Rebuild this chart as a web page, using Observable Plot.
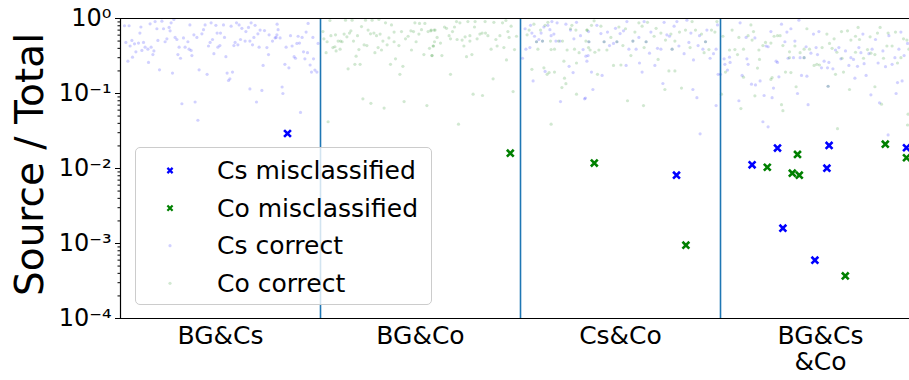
<!DOCTYPE html>
<html>
<head>
<meta charset="utf-8">
<script src="https://cdn.jsdelivr.net/npm/d3@7"></script>
<script src="https://cdn.jsdelivr.net/npm/@observablehq/plot@0.6"></script>
<style>
  html, body { margin: 0; padding: 0; background: white; }
  #wrap { position: relative; width: 909px; height: 380px; font-family: "DejaVu Sans", sans-serif; }
  #legend { position: absolute; left: 135px; top: 147px; width: 297px; height: 158px; box-sizing: border-box;
            border: 1px solid #cccccc; border-radius: 5px; background: rgba(255,255,255,0.8); }
  #legend svg { position: absolute; left: -1px; top: -1px; }
</style>
</head>
<body>
<div id="wrap"></div>
<script>
// ---------------- data ----------------
const categories = ["BG&Cs", "BG&Co", "Cs&Co", "BG&Cs\n&Co"];
const categoryCenters = [0.5, 1.5, 2.5, 3.5];
const separators = [1, 2, 3];
const yTicks = [1e-4, 1e-3, 1e-2, 1e-1, 1];
const yLabel = "Source / Total";
const legendLabels = ["Cs misclassified", "Co misclassified", "Cs correct", "Co correct"];

// misclassified samples: [x position, Source/Total]
const csMisclassified = [
  [0.835, 0.0293], [2.78, 0.00814], [3.158, 0.0112], [3.285, 0.0187], [3.312, 0.0016],
  [3.472, 0.000599], [3.532, 0.0101], [3.543, 0.0203], [3.93, 0.0189]
];
const coMisclassified = [
  [1.949, 0.016], [2.369, 0.0118], [2.827, 0.00095], [3.234, 0.0104], [3.359, 0.00866],
  [3.385, 0.0154], [3.394, 0.00814], [3.624, 0.00037], [3.824, 0.0211], [3.93, 0.0139]
];

// correctly classified samples: [x position, Source/Total]
const csCorrect = [
  [0.02,0.80],[0.043,0.80],[0.102,0.77],[0.148,0.85],[0.173,0.91],[0.207,0.92],[0.182,0.73],[0.215,0.73],
  [0.243,0.76],[0.253,0.875],[0.267,0.97],[0.248,0.685],[0.097,0.64],[0.027,0.48],[0.057,0.51],[0.07,0.46],
  [0.048,0.43],[0.09,0.47],[0.115,0.48],[0.077,0.36],[0.107,0.375],[0.123,0.415],[0.137,0.39],[0.153,0.415],
  [0.167,0.37],[0.162,0.33],[0.06,0.305],[0.037,0.27],[0.14,0.26],[0.187,0.51],[0.223,0.49],[0.232,0.535],
  [0.273,0.56],[0.282,0.525],[0.293,0.415],[0.315,0.55],[0.323,0.415],[0.343,0.39],[0.353,0.375],[0.337,0.49],
  [0.357,0.32],[0.287,0.33],[0.30,0.295],[0.347,0.82],[0.367,0.605],[0.382,0.56],[0.407,0.625],[0.415,0.71],
  [0.423,0.82],[0.453,0.875],[0.477,0.81],[0.483,0.64],[0.50,0.64],[0.515,0.82],[0.52,0.56],[0.44,0.43],
  [0.448,0.48],[0.46,0.525],[0.487,0.415],[0.497,0.435],[0.467,0.34],[0.527,0.31],[0.553,0.79],[0.58,0.875],
  [0.593,0.82],[0.607,0.74],[0.627,0.67],[0.64,0.76],[0.653,0.875],[0.673,0.81],[0.698,0.70],[0.72,0.69],
  [0.743,0.605],[0.687,0.625],[0.667,0.56],[0.647,0.50],[0.623,0.50],[0.60,0.525],[0.573,0.48],[0.567,0.435],
  [0.587,0.445],[0.66,0.445],[0.693,0.415],[0.732,0.41],[0.76,0.50],[0.773,0.55],[0.782,0.605],[0.74,0.33],
  [0.713,0.237],[0.195,0.207],[0.26,0.187],[0.393,0.207],[0.433,0.18],[0.533,0.187],[0.56,0.193],[0.547,0.157],
  [0.54,0.149],[0.647,0.115],[0.707,0.11],[0.307,0.073],[0.373,0.077],[0.387,0.044],[0.68,0.077],
  [0.783,0.84],[0.788,0.71],[0.798,0.55],[0.778,0.56],[0.85,0.59],[0.888,0.58],[0.908,0.56],[0.928,0.66],
  [0.938,0.86],[0.962,0.56],[0.988,0.465],[0.828,0.415],[0.858,0.43],[0.882,0.465],[0.895,0.47],[0.915,0.36],
  [0.935,0.35],[0.868,0.31],[0.875,0.295],[0.922,0.29],[0.965,0.29],[0.822,0.245],[0.842,0.22],[0.948,0.24],
  [0.955,0.193],[0.972,0.205],[0.982,0.193],[0.808,0.122],[0.812,0.10],[0.90,0.056],
  [2.023,0.73],[2.05,0.81],[2.057,0.64],[2.07,0.58],[2.08,0.49],[2.092,0.525],[2.103,0.64],[2.117,0.77],
  [2.137,0.81],[2.153,0.59],[2.167,0.62],[2.177,0.50],[2.197,0.50],[2.157,0.91],[2.183,0.875],[2.227,0.84],
  [2.25,0.70],[2.267,0.535],[2.28,0.89],[2.30,0.59],[2.313,0.385],[2.327,0.315],[2.34,0.67],[2.047,0.41],
  [2.01,0.295],[2.243,0.23],[2.263,0.19],[2.123,0.197],[2.063,0.147],[2.2,0.078],[2.32,0.085],[2.027,0.39],
  [2.147,0.71],[2.11,0.50],
  [2.342,0.49],[2.338,0.32],[2.332,0.27],[2.382,0.81],[2.402,0.63],[2.418,0.49],[2.435,0.66],[2.445,0.435],
  [2.465,0.465],[2.475,0.74],[2.482,0.49],[2.498,0.63],[2.515,0.685],[2.532,0.91],[2.542,0.39],[2.562,0.50],
  [2.578,0.39],[2.592,0.56],[2.618,0.91],[2.628,0.49],[2.645,0.345],[2.652,0.66],[2.685,0.40],[2.702,0.39],
  [2.718,0.89],[2.732,0.605],[2.745,0.58],[2.758,0.39],[2.768,0.79],[2.782,0.91],[2.792,0.43],[2.818,0.34],
  [2.832,0.95],[2.842,0.48],[2.852,0.64],[2.865,0.28],[2.888,0.435],[2.895,0.59],[2.912,0.39],[2.925,0.49],
  [2.932,0.70],[2.948,0.295],[2.965,0.34],[2.978,0.39],[2.985,0.82],[2.988,0.18],[2.355,0.193],[2.408,0.174],
  [2.528,0.237],[2.595,0.255],[2.608,0.193],[2.672,0.237],[2.362,0.113],[2.712,0.136],[2.862,0.113],[2.882,0.088],
  [2.978,0.069],[2.325,0.087],[2.898,0.029],
  [3.018,0.29],[3.045,0.305],[3.048,0.26],[3.022,0.245],[3.035,0.205],[3.098,0.875],[3.108,0.174],[3.092,0.08],
  [3.0,0.18],
  [3.128,0.56],[3.132,0.29],[3.138,0.245],[3.172,0.55],[3.228,0.43],[3.238,0.42],[3.252,0.67],[3.278,0.27],
  [3.285,0.26],[3.305,0.84],[3.322,0.49],[3.332,0.66],[3.338,0.295],[3.352,0.73],[3.365,0.30],[3.372,0.50],
  [3.392,0.95],[3.398,0.30],[3.418,0.30],[3.428,0.42],[3.452,0.345],[3.465,0.62],[3.478,0.41],[3.485,0.33],
  [3.492,0.67],[3.505,0.22],[3.518,0.27],[3.535,0.22],[3.542,0.26],[3.562,0.213],[3.575,0.38],[3.592,0.41],
  [3.602,0.29],[3.625,0.37],[3.642,0.237],[3.652,0.30],[3.665,0.285],[3.685,0.23],[3.692,0.41],[3.702,0.35],
  [3.712,0.62],[3.718,0.25],[3.728,0.174],[3.742,0.34],[3.758,0.39],[3.775,0.525],[3.788,0.255],[3.812,0.37],
  [3.825,0.228],[3.842,0.59],[3.858,0.245],[3.872,0.30],[3.892,0.39],[3.902,0.66],[3.908,0.147],[3.918,0.32],
  [3.935,0.465],[3.885,0.14],[3.155,0.133],[3.175,0.13],[3.198,0.147],[3.292,0.167],[3.405,0.174],[3.432,0.17],
  [3.265,0.118],[3.218,0.094],[3.258,0.088],[3.385,0.10],[3.438,0.071],[3.538,0.125],[3.672,0.16],[3.752,0.096],
  [3.795,0.075],[3.878,0.10],[3.212,0.042],[3.238,0.036],[3.838,0.028]
];
const coCorrect = [
  [1.012,0.67],[1.017,0.535],[1.047,0.94],[1.125,0.95],[1.158,0.95],[1.225,0.95],[1.258,0.95],[1.292,0.97],
  [1.325,0.875],[1.355,0.82],[1.205,0.78],[1.238,0.70],[1.25,0.625],[1.267,0.64],[1.28,0.59],[1.298,0.62],
  [1.312,0.50],[1.333,0.445],[1.342,0.55],[1.368,0.66],[1.368,0.49],[1.392,0.435],[1.405,0.67],[1.425,0.535],
  [1.438,0.58],[1.452,0.685],[1.465,0.67],[1.472,0.875],[1.495,0.86],[1.522,0.86],[1.505,0.71],[1.492,0.62],
  [1.478,0.49],[1.538,0.67],[1.552,0.685],[1.568,0.70],[1.565,0.43],[1.545,0.40],[1.517,0.33],[1.558,0.32],
  [1.455,0.38],[1.375,0.29],[1.35,0.245],[1.412,0.23],[1.397,0.18],[1.075,0.605],[1.052,0.59],[1.033,0.49],
  [1.088,0.50],[1.10,0.50],[1.108,0.49],[1.118,0.62],[1.132,0.57],[1.145,0.64],[1.152,0.685],[1.165,0.50],
  [1.185,0.59],[1.192,0.385],[1.218,0.445],[1.232,0.435],[1.272,0.35],[1.288,0.41],[1.305,0.38],[1.062,0.41],
  [1.072,0.42],[1.078,0.37],[1.098,0.39],[1.028,0.35],[1.178,0.315],[1.172,0.245],[1.198,0.245],[1.138,0.213],
  [1.212,0.085],[1.252,0.074],[1.318,0.064],[1.418,0.078],[1.532,0.069],[1.038,0.042],
  [1.573,0.70],[1.553,0.70],[1.583,0.56],[1.57,0.49],[1.563,0.43],[1.557,0.32],[1.60,0.47],[1.607,0.32],
  [1.62,0.77],[1.63,0.74],[1.643,0.59],[1.65,0.535],[1.67,0.77],[1.66,0.67],[1.68,0.91],[1.683,0.525],
  [1.697,0.875],[1.708,0.515],[1.717,0.43],[1.723,0.57],[1.737,0.91],[1.747,0.59],[1.747,0.50],[1.77,0.77],
  [1.773,0.91],[1.783,0.535],[1.797,0.62],[1.808,0.64],[1.823,0.91],[1.825,0.64],[1.837,0.59],[1.853,0.39],
  [1.867,0.89],[1.877,0.525],[1.883,0.43],[1.897,0.59],[1.91,0.875],[1.917,0.41],[1.927,0.94],[1.937,0.67],
  [1.943,0.56],[1.953,0.79],[1.97,0.385],[1.98,0.58],[1.73,0.31],[1.757,0.33],[1.93,0.28],[1.65,0.18],
  [1.863,0.157],[1.763,0.098],[1.81,0.094],[1.963,0.106],[1.69,0.039],
  [2.033,0.605],[2.043,0.70],[2.067,0.84],[2.087,0.39],[2.10,0.70],[2.123,0.81],[2.137,0.89],[2.153,0.385],
  [2.17,0.39],[2.21,0.50],[2.233,0.38],[2.25,0.73],[2.257,0.81],[2.27,0.39],[2.277,0.70],[2.217,0.27],
  [2.28,0.255],[2.293,0.35],[2.327,0.50],[2.333,0.70],[2.34,0.41],[2.057,0.21],[2.117,0.22],[2.133,0.18],
  [2.143,0.19],[2.17,0.193],[2.22,0.16],[2.227,0.135],[2.207,0.12],[2.28,0.098],[2.153,0.039],
  [2.08,0.49],[2.11,0.50],[2.15,0.50],[2.19,0.50],[2.342,0.49],[2.418,0.49],[2.482,0.49],[2.562,0.50],
  [2.628,0.49],[2.758,0.39],[2.925,0.49],
  [2.332,0.70],[2.355,0.81],[2.368,0.93],[2.392,0.38],[2.402,0.79],[2.432,0.38],[2.452,0.56],[2.492,0.77],
  [2.512,0.435],[2.525,0.73],[2.552,0.32],[2.572,0.66],[2.592,0.875],[2.608,0.79],[2.618,0.41],[2.635,0.89],
  [2.668,0.58],[2.678,0.74],[2.702,0.64],[2.725,0.515],[2.752,0.62],[2.772,0.50],[2.795,0.66],[2.825,0.70],
  [2.848,0.41],[2.858,0.91],[2.875,0.70],[2.905,0.62],[2.918,0.35],[2.942,0.385],[2.955,0.70],[2.972,0.66],
  [2.982,0.91],[2.348,0.38],[2.372,0.355],[2.465,0.237],[2.502,0.24],[2.688,0.285],[2.742,0.20],[2.772,0.20],
  [2.722,0.113],[2.805,0.118],[2.535,0.08],[2.615,0.069],[2.385,0.18],
  [3.012,0.58],[3.058,0.70],[3.045,0.38],[3.072,0.385],[3.085,0.33],[3.092,0.56],[3.115,0.39],[3.115,0.165],
  [3.102,0.063],[3.005,0.098],[3.025,0.193],
  [3.152,0.82],[3.165,0.67],[3.138,0.59],[3.158,0.515],[3.192,0.38],[3.195,0.285],[3.185,0.218],[3.212,0.435],
  [3.225,0.48],[3.252,0.47],[3.268,0.58],[3.285,0.59],[3.298,0.59],[3.312,0.435],[3.345,0.36],[3.372,0.43],
  [3.398,0.35],[3.418,0.39],[3.432,0.73],[3.445,0.39],[3.468,0.237],[3.482,0.245],[3.495,0.24],[3.508,0.41],
  [3.532,0.62],[3.545,0.465],[3.558,0.40],[3.568,0.535],[3.582,0.355],[3.605,0.67],[3.615,0.193],[3.635,0.685],
  [3.652,0.515],[3.675,0.58],[3.688,0.76],[3.695,0.525],[3.715,0.295],[3.735,0.385],[3.748,0.57],[3.772,0.33],
  [3.785,0.64],[3.798,0.76],[3.815,0.295],[3.832,0.43],[3.838,0.64],[3.858,0.43],[3.875,0.66],[3.885,0.255],
  [3.902,0.30],[3.915,0.535],[3.932,0.515],[3.942,0.39],[3.258,0.163],[3.252,0.154],[3.325,0.193],[3.352,0.19],
  [3.378,0.123],[3.575,0.18],[3.645,0.113],[3.772,0.123],[3.805,0.072],[3.305,0.071],[3.312,0.059],[3.172,0.093],
  [3.585,0.034],[3.938,0.053],[3.935,0.038],
  [3.345,0.30],[3.418,0.30],[3.608,0.295],[3.675,0.355],[3.752,0.345],[3.538,0.125]
];

// ---------------- chart ----------------
const supDigits = "⁰¹²³⁴⁵⁶⁷⁸⁹";
const sup = d => {
  const e = Math.round(Math.log10(d));
  return "10" + String(e).replace("-", "⁻").replace(/\d/g, c => supDigits[+c]);
};
const minorTicks = [];
for (let k = -4; k < 0; k++) for (let m = 2; m <= 9; m++) minorTicks.push(m * Math.pow(10, k));

const chart = Plot.plot({
  width: 909,
  height: 380,
  marginLeft: 120,
  marginRight: 0,
  marginTop: 18,
  marginBottom: 62,
  style: { fontFamily: "DejaVu Sans", color: "black", background: "white", overflow: "visible" },
  x: { domain: [0, 3.945] },
  y: { type: "log", domain: [1e-4, 1] },
  marks: [
    Plot.dot(csCorrect, { x: d => d[0], y: d => d[1], r: 1.6, fill: "blue", fillOpacity: 0.18, stroke: "none" }),
    Plot.dot(coCorrect, { x: d => d[0], y: d => d[1], r: 1.6, fill: "green", fillOpacity: 0.18, stroke: "none" }),
    Plot.ruleX(separators, { stroke: "#1f77b4", strokeWidth: 1.6 }),
    Plot.dot(csMisclassified, { x: d => d[0], y: d => d[1], symbol: "times", r: 3.2, stroke: "blue", strokeWidth: 2.6 }),
    Plot.dot(coMisclassified, { x: d => d[0], y: d => d[1], symbol: "times", r: 3.2, stroke: "green", strokeWidth: 2.6 }),
    Plot.ruleY([1], { stroke: "black", strokeWidth: 1.2 }),
    Plot.ruleY([1e-4], { stroke: "black", strokeWidth: 1.2 }),
    Plot.ruleX([0], { stroke: "black", strokeWidth: 1.2 }),
    Plot.axisY(yTicks, { tickFormat: sup, fontSize: 24, tickSize: 5, tickPadding: 4, label: null }),
    Plot.axisY(minorTicks, { tickFormat: () => "", tickSize: 2.5, label: null }),
    Plot.axisX(categoryCenters, { tickFormat: (d, i) => categories[i], tickSize: 0, tickPadding: 7, fontSize: 25, lineHeight: 1.05, label: null }),
    Plot.text([yLabel], { frameAnchor: "left", rotate: -90, dx: -78, dy: -4, textAnchor: "middle", lineAnchor: "bottom", fontSize: 39, text: d => d, fill: "black" })
  ]
});

const wrap = document.getElementById("wrap");
wrap.appendChild(chart);

// legend overlay
const legend = document.createElement("div");
legend.id = "legend";
wrap.appendChild(legend);
const lsvg = d3.select(legend).append("svg").attr("width", 297).attr("height", 158)
  .style("font-family", "DejaVu Sans");
const rows = [
  { label: legendLabels[0], kind: "x", color: "blue" },
  { label: legendLabels[1], kind: "x", color: "green" },
  { label: legendLabels[2], kind: "o", color: "blue" },
  { label: legendLabels[3], kind: "o", color: "green" }
];
rows.forEach((r, i) => {
  const cy = 23.5 + i * 37.6;
  const g = lsvg.append("g").attr("transform", `translate(35,${cy})`);
  if (r.kind === "x") {
    g.append("path").attr("d", "M-2.6,-2.6L2.6,2.6M-2.6,2.6L2.6,-2.6")
      .attr("stroke", r.color).attr("stroke-width", 2.2).attr("fill", "none");
  } else {
    g.append("circle").attr("r", 1.6).attr("fill", r.color).attr("fill-opacity", 0.18);
  }
  lsvg.append("text").attr("x", 82).attr("y", cy).attr("dy", "0.35em")
    .attr("font-size", 25).attr("fill", "black").text(r.label);
});
</script>
</body>
</html>
